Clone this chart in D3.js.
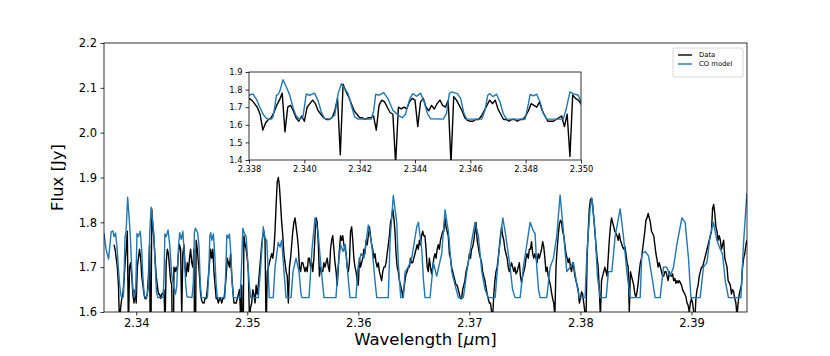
<!DOCTYPE html>
<html>
<head>
<meta charset="utf-8">
<script src="https://cdn.jsdelivr.net/npm/d3@7"></script>
<style>
  body { margin: 0; background: #fff; }
  text { font-family: "DejaVu Sans", sans-serif; }
</style>
</head>
<body>
<div id="chart"></div>
<script>
// tick labels
var xTicks = [2.34, 2.35, 2.36, 2.37, 2.38, 2.39];
var yTicks = [1.6, 1.7, 1.8, 1.9, 2.0, 2.1, 2.2];
var insetXTicks = [2.338, 2.340, 2.342, 2.344, 2.346, 2.348, 2.350];
var insetYTicks = [1.4, 1.5, 1.6, 1.7, 1.8, 1.9];
var seriesNames = ["Data", "CO model"];

// observed spectrum, sampled every 0.0001 um from 2.3380
var dataStart = 2.3380, dataStep = 0.0001;
var dataFlux = [
  1.75, 1.74, 1.72, 1.70, 1.66, 1.57, 1.61, 1.63, 1.64, 1.67,
  1.71, 1.74, 1.78, 1.56, 1.70, 1.71, 1.68, 1.64, 1.62, 1.65,
  1.62, 1.70, 1.72, 1.74, 1.72, 1.68, 1.66, 1.64, 1.63, 1.63,
  1.64, 1.68, 1.75, 1.43, 1.83, 1.79, 1.76, 1.72, 1.68, 1.66,
  1.64, 1.64, 1.63, 1.64, 1.64, 1.65, 1.57, 1.71, 1.74, 1.73,
  1.70, 1.67, 1.66, 1.38, 1.70, 1.69, 1.70, 1.69, 1.73, 1.75,
  1.74, 1.59, 1.73, 1.75, 1.70, 1.68, 1.71, 1.69, 1.72, 1.74,
  1.71, 1.70, 1.74, 1.38, 1.76, 1.74, 1.71, 1.68, 1.64, 1.625,
  1.62, 1.62, 1.63, 1.63, 1.65, 1.68, 1.71, 1.74, 1.72, 1.74,
  1.69, 1.66, 1.63, 1.63, 1.62, 1.63, 1.63, 1.62, 1.63, 1.63,
  1.65, 1.68, 1.72, 1.71, 1.70, 1.73, 1.68, 1.65, 1.62, 1.62,
  1.62, 1.63, 1.64, 1.65, 1.59, 1.66, 1.42, 1.77, 1.75, 1.74,
  1.72, 1.69, 1.58, 1.61, 1.62, 1.65, 1.64, 1.62, 1.66, 1.64,
  1.66, 1.69, 1.72, 1.75, 1.77, 1.78, 1.76, 1.55, 1.69, 1.70,
  1.71, 1.72, 1.73, 1.72, 1.74, 1.78, 1.84, 1.89, 1.90, 1.88,
  1.84, 1.80, 1.77, 1.73, 1.71, 1.69, 1.68, 1.62, 1.70, 1.72,
  1.75, 1.78, 1.80, 1.81, 1.79, 1.77, 1.745, 1.70, 1.69, 1.71,
  1.71, 1.70, 1.69, 1.70, 1.69, 1.72, 1.72, 1.70, 1.71, 1.69,
  1.72, 1.77, 1.81, 1.80, 1.75, 1.68, 1.70, 1.69, 1.69, 1.71,
  1.70, 1.71, 1.72, 1.70, 1.69, 1.74, 1.76, 1.77, 1.74, 1.71,
  1.69, 1.66, 1.70, 1.74, 1.77, 1.76, 1.77, 1.75, 1.74, 1.73,
  1.70, 1.69, 1.71, 1.78, 1.79, 1.76, 1.72, 1.70, 1.69, 1.67,
  1.66, 1.72, 1.70, 1.71, 1.72, 1.74, 1.73, 1.76, 1.75, 1.77,
  1.79, 1.77, 1.75, 1.74, 1.72, 1.73, 1.71, 1.70, 1.71, 1.69,
  1.68, 1.67, 1.69, 1.70, 1.70, 1.71, 1.73, 1.75, 1.77, 1.80,
  1.81, 1.83, 1.81, 1.78, 1.73, 1.70, 1.69, 1.67, 1.66, 1.65,
  1.634, 1.65, 1.67, 1.685, 1.69, 1.70, 1.70, 1.72, 1.71, 1.71,
  1.72, 1.73, 1.74, 1.75, 1.74, 1.76, 1.75, 1.77, 1.78, 1.77,
  1.77, 1.74, 1.70, 1.69, 1.72, 1.70, 1.685, 1.70, 1.72, 1.73,
  1.72, 1.74, 1.75, 1.74, 1.76, 1.77, 1.78, 1.78, 1.81, 1.79,
  1.78, 1.77, 1.73, 1.72, 1.70, 1.69, 1.68, 1.67, 1.66, 1.66,
  1.65, 1.64, 1.63, 1.63, 1.65, 1.66, 1.67, 1.69, 1.70, 1.71,
  1.73, 1.72, 1.74, 1.745, 1.76, 1.78, 1.80, 1.76, 1.745, 1.73,
  1.72, 1.71, 1.69, 1.68, 1.67, 1.655, 1.64, 1.63, 1.62, 1.62,
  1.60, 1.59, 1.64, 1.67, 1.69, 1.70, 1.72, 1.745, 1.77, 1.79,
  1.77, 1.76, 1.74, 1.73, 1.72, 1.70, 1.69, 1.70, 1.71, 1.70,
  1.69, 1.70, 1.685, 1.69, 1.70, 1.71, 1.68, 1.665, 1.68, 1.69,
  1.70, 1.72, 1.73, 1.72, 1.74, 1.74, 1.757, 1.73, 1.72, 1.73,
  1.72, 1.71, 1.73, 1.72, 1.73, 1.74, 1.757, 1.745, 1.72, 1.69,
  1.70, 1.68, 1.67, 1.66, 1.643, 1.63, 1.62, 1.59, 1.70, 1.74,
  1.77, 1.795, 1.805, 1.80, 1.78, 1.77, 1.75, 1.73, 1.72, 1.71,
  1.72, 1.70, 1.69, 1.71, 1.70, 1.68, 1.67, 1.66, 1.65, 1.62,
  1.63, 1.645, 1.64, 1.62, 1.60, 1.58, 1.72, 1.78, 1.83, 1.85,
  1.854, 1.84, 1.81, 1.78, 1.75, 1.72, 1.70, 1.65, 1.59, 1.67,
  1.68, 1.69, 1.70, 1.69, 1.68, 1.72, 1.76, 1.79, 1.81, 1.80,
  1.79, 1.78, 1.775, 1.77, 1.76, 1.775, 1.76, 1.753, 1.745, 1.74,
  1.746, 1.73, 1.71, 1.70, 1.60, 1.69, 1.68, 1.67, 1.66, 1.64,
  1.634, 1.645, 1.664, 1.69, 1.71, 1.72, 1.74, 1.76, 1.78, 1.805,
  1.81, 1.82, 1.81, 1.80, 1.78, 1.775, 1.77, 1.75, 1.73, 1.716,
  1.70, 1.71, 1.70, 1.69, 1.68, 1.68, 1.69, 1.69, 1.68, 1.67,
  1.69, 1.68, 1.68, 1.685, 1.67, 1.675, 1.664, 1.67, 1.665, 1.67,
  1.665, 1.66, 1.65, 1.645, 1.64, 1.634, 1.62, 1.615, 1.60, 1.62,
  1.63, 1.62, 1.60, 1.58, 1.63, 1.65, 1.66, 1.68, 1.69, 1.70,
  1.70, 1.71, 1.72, 1.73, 1.74, 1.75, 1.76, 1.77, 1.78, 1.83,
  1.84, 1.82, 1.79, 1.78, 1.76, 1.77, 1.76, 1.74, 1.75, 1.76,
  1.72, 1.71, 1.70, 1.67, 1.665, 1.66, 1.64, 1.65, 1.645, 1.63,
  1.62, 1.59, 1.62, 1.64, 1.65, 1.66, 1.70, 1.72, 1.73, 1.75,
  1.76
];

// CO model, [wavelength, flux]
var modelPts = [
  [2.3371,1.776],[2.33727,1.742],[2.33751,1.718],[2.33775,1.779],[2.3379,1.781],[2.338,1.768],
  [2.33814,1.776],[2.33827,1.745],[2.33839,1.70],[2.33851,1.66],[2.33862,1.638],[2.33869,1.632],
  [2.33881,1.632],[2.33887,1.645],[2.33893,1.70],[2.33899,1.768],[2.33905,1.772],[2.33911,1.79],
  [2.33923,1.856],[2.33935,1.815],[2.33947,1.77],[2.33959,1.70],[2.33969,1.655],[2.33983,1.632],
  [2.33995,1.645],[2.34007,1.775],[2.34019,1.768],[2.34037,1.78],[2.34049,1.74],[2.34061,1.674],
  [2.34073,1.636],[2.34092,1.632],[2.3411,1.655],[2.34122,1.777],[2.34134,1.834],[2.34146,1.806],
  [2.34158,1.777],[2.3417,1.71],[2.34182,1.645],[2.34194,1.632],[2.34242,1.632],[2.34251,1.683],
  [2.34258,1.774],[2.3427,1.768],[2.34287,1.783],[2.34302,1.749],[2.3432,1.683],[2.34339,1.655],
  [2.34354,1.64],[2.34366,1.66],[2.3437,1.69],[2.34382,1.75],[2.34392,1.777],[2.34406,1.762],
  [2.3442,1.78],[2.34433,1.73],[2.34445,1.664],[2.34457,1.634],[2.34502,1.632],[2.34514,1.664],
  [2.34524,1.777],[2.34533,1.787],[2.34553,1.777],[2.34565,1.75],[2.34577,1.664],[2.34587,1.632],
  [2.34641,1.632],[2.34653,1.683],[2.34663,1.768],[2.34671,1.777],[2.34681,1.76],[2.34695,1.774],
  [2.34707,1.73],[2.34719,1.664],[2.34731,1.632],[2.34798,1.632],[2.3481,1.72],[2.34816,1.772],
  [2.34828,1.765],[2.3484,1.774],[2.34852,1.73],[2.34864,1.664],[2.34876,1.632],[2.34936,1.632],
  [2.34948,1.70],[2.3496,1.787],[2.34972,1.777],[2.3499,1.768],[2.35,1.73],[2.35015,1.67],
  [2.35031,1.632],[2.35099,1.632],[2.35121,1.70],[2.35144,1.79],[2.35159,1.765],[2.35175,1.76],
  [2.35189,1.69],[2.35198,1.632],[2.35234,1.632],[2.3525,1.70],[2.35279,1.755],[2.35295,1.745],
  [2.3531,1.76],[2.35331,1.69],[2.35349,1.632],[2.35394,1.632],[2.35412,1.69],[2.35439,1.72],
  [2.35466,1.69],[2.35484,1.64],[2.35493,1.632],[2.35556,1.632],[2.35583,1.74],[2.3561,1.81],
  [2.35637,1.78],[2.35664,1.70],[2.35691,1.632],[2.35799,1.632],[2.35817,1.70],[2.35841,1.75],
  [2.35862,1.735],[2.35883,1.75],[2.35907,1.68],[2.35925,1.632],[2.35979,1.632],[2.35997,1.70],
  [2.36024,1.73],[2.36051,1.72],[2.3609,1.794],[2.36121,1.75],[2.3615,1.67],[2.36166,1.632],
  [2.3627,1.632],[2.36286,1.76],[2.36315,1.86],[2.36346,1.80],[2.3636,1.71],[2.36382,1.632],
  [2.36405,1.632],[2.36421,1.69],[2.3645,1.70],[2.36481,1.72],[2.36526,1.79],[2.36541,1.80],
  [2.36571,1.74],[2.36587,1.67],[2.36601,1.632],[2.36646,1.632],[2.36676,1.71],[2.36706,1.68],
  [2.36751,1.73],[2.36781,1.828],[2.36811,1.78],[2.36841,1.69],[2.36871,1.66],[2.36901,1.632],
  [2.36946,1.632],[2.36977,1.69],[2.37022,1.76],[2.37051,1.80],[2.37081,1.77],[2.37112,1.69],
  [2.37141,1.65],[2.37171,1.632],[2.37232,1.632],[2.37261,1.72],[2.37301,1.81],[2.37322,1.78],
  [2.37367,1.70],[2.37389,1.65],[2.37412,1.632],[2.37457,1.632],[2.37486,1.70],[2.37517,1.75],
  [2.37547,1.80],[2.37577,1.78],[2.37592,1.775],[2.37607,1.70],[2.37623,1.65],[2.37637,1.632],
  [2.37697,1.632],[2.37727,1.70],[2.37757,1.72],[2.37787,1.77],[2.37817,1.861],[2.37847,1.78],
  [2.37877,1.69],[2.37907,1.70],[2.37937,1.71],[2.37968,1.66],[2.37991,1.632],[2.38042,1.632],
  [2.38058,1.73],[2.38087,1.83],[2.38103,1.854],[2.38132,1.78],[2.38153,1.68],[2.38178,1.632],
  [2.38232,1.632],[2.38252,1.69],[2.38283,1.69],[2.38313,1.77],[2.38358,1.83],[2.38387,1.77],
  [2.38418,1.69],[2.38448,1.632],[2.38538,1.632],[2.38553,1.73],[2.38583,1.735],[2.38613,1.725],
  [2.38643,1.68],[2.38673,1.632],[2.38718,1.632],[2.38748,1.70],[2.38778,1.70],[2.38808,1.68],
  [2.38838,1.70],[2.38868,1.75],[2.38914,1.81],[2.38943,1.80],[2.38973,1.72],[2.38995,1.632],
  [2.39078,1.632],[2.39108,1.70],[2.39139,1.71],[2.39168,1.77],[2.39198,1.80],[2.39229,1.76],
  [2.39259,1.74],[2.39279,1.73],[2.39304,1.67],[2.39333,1.632],[2.39445,1.632],[2.39468,1.75],
  [2.39499,1.865]
];

var dataPts = dataFlux.map(function (f, i) { return [dataStart + i * dataStep, f]; });

var W = 830, H = 356;
var main = { left: 104, right: 747, top: 43, bottom: 312 };
var ins = { left: 249, right: 581, top: 72, bottom: 160 };
var blue = "#1f77b4";

var svg = d3.select("#chart").append("svg")
  .attr("width", W).attr("height", H)
  .style("display", "block");

var defs = svg.append("defs");
defs.append("clipPath").attr("id", "clipMain").append("rect")
  .attr("x", main.left).attr("y", main.top)
  .attr("width", main.right - main.left).attr("height", main.bottom - main.top);
defs.append("clipPath").attr("id", "clipInset").append("rect")
  .attr("x", ins.left).attr("y", ins.top)
  .attr("width", ins.right - ins.left).attr("height", ins.bottom - ins.top);

// main axes scales
var x = d3.scaleLinear().domain([2.3371, 2.395]).range([main.left, main.right]);
var y = d3.scaleLinear().domain([1.6, 2.2]).range([main.bottom, main.top]);

function drawLines(g, xs, ys, clipId, width) {
  var line = d3.line().x(function (d) { return xs(d[0]); }).y(function (d) { return ys(d[1]); });
  var lg = g.append("g").attr("clip-path", "url(#" + clipId + ")");
  lg.append("path").datum(dataPts).attr("d", line)
    .attr("fill", "none").attr("stroke", "#000").attr("stroke-width", width)
    .attr("stroke-linejoin", "round");
  lg.append("path").datum(modelPts).attr("d", line)
    .attr("fill", "none").attr("stroke", blue).attr("stroke-width", width)
    .attr("stroke-linejoin", "round");
}

function styleAxis(g, size) {
  g.select(".domain").remove();
  g.selectAll(".tick line").attr("stroke", "#000").attr("stroke-width", 0.8);
  g.selectAll(".tick text").attr("fill", "#000")
    .attr("font-size", size).attr("font-family", "DejaVu Sans");
}

var mainG = svg.append("g");
drawLines(mainG, x, y, "clipMain", 1.4);

mainG.append("g")
  .attr("transform", "translate(0," + main.bottom + ")")
  .call(d3.axisBottom(x).tickValues(xTicks).tickFormat(d3.format(".2f")).tickSize(3.5).tickPadding(3.5))
  .call(styleAxis, 11.5);
mainG.append("g")
  .attr("transform", "translate(" + main.left + ",0)")
  .call(d3.axisLeft(y).tickValues(yTicks).tickFormat(d3.format(".1f")).tickSize(3.5).tickPadding(3.5))
  .call(styleAxis, 11.5);

mainG.append("rect")
  .attr("x", main.left).attr("y", main.top)
  .attr("width", main.right - main.left).attr("height", main.bottom - main.top)
  .attr("fill", "none").attr("stroke", "#000").attr("stroke-width", 0.8);

// axis labels
var xl = svg.append("text")
  .attr("x", (main.left + main.right) / 2).attr("y", 345)
  .attr("text-anchor", "middle").attr("font-size", 16.5);
xl.append("tspan").text("Wavelength [");
xl.append("tspan").attr("font-style", "italic").text("μ");
xl.append("tspan").text("m]");

svg.append("text")
  .attr("transform", "translate(63," + (main.top + main.bottom) / 2 + ") rotate(-90)")
  .attr("text-anchor", "middle").attr("font-size", 16.5)
  .text("Flux [Jy]");

// legend
var leg = svg.append("g");
leg.append("rect")
  .attr("x", 673).attr("y", 48).attr("width", 70).attr("height", 29).attr("rx", 2)
  .attr("fill", "#fff").attr("fill-opacity", 0.8)
  .attr("stroke", "#ccc").attr("stroke-width", 0.8);
[["#000", 55], [blue, 64]].forEach(function (c, i) {
  leg.append("line").attr("x1", 678).attr("x2", 692).attr("y1", c[1]).attr("y2", c[1])
    .attr("stroke", c[0]).attr("stroke-width", 1.4);
  leg.append("text").attr("x", 699).attr("y", c[1] + 2.4)
    .attr("font-size", 6.8).text(seriesNames[i]);
});

// inset
var xi = d3.scaleLinear().domain([2.338, 2.350]).range([ins.left, ins.right]);
var yi = d3.scaleLinear().domain([1.4, 1.9]).range([ins.bottom, ins.top]);

var insG = svg.append("g");
insG.append("rect")
  .attr("x", ins.left).attr("y", ins.top)
  .attr("width", ins.right - ins.left).attr("height", ins.bottom - ins.top)
  .attr("fill", "#fff");
drawLines(insG, xi, yi, "clipInset", 1.4);

insG.append("g")
  .attr("transform", "translate(0," + ins.bottom + ")")
  .call(d3.axisBottom(xi).tickValues(insetXTicks).tickFormat(d3.format(".3f")).tickSize(3.5).tickPadding(3))
  .call(styleAxis, 8.3);
insG.append("g")
  .attr("transform", "translate(" + ins.left + ",0)")
  .call(d3.axisLeft(yi).tickValues(insetYTicks).tickFormat(d3.format(".1f")).tickSize(3.5).tickPadding(3))
  .call(styleAxis, 8.3);

insG.append("rect")
  .attr("x", ins.left).attr("y", ins.top)
  .attr("width", ins.right - ins.left).attr("height", ins.bottom - ins.top)
  .attr("fill", "none").attr("stroke", "#000").attr("stroke-width", 0.8);
</script>
</body>
</html>
